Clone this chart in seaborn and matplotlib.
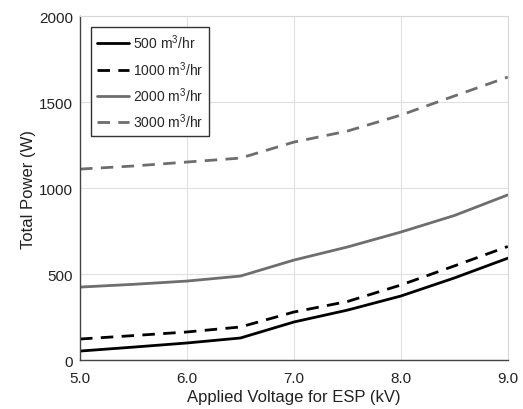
import pandas as pd
import numpy as np
import seaborn as sns
import matplotlib.pyplot as plt

# voltaje aplicado (kV) y potencia total (W) para cada caudal
voltaje = [5.0, 5.5, 6.0, 6.5, 7.0, 7.5, 8.0, 8.5, 9.0]
p500 = [52, 75, 99, 128, 221, 290, 372, 477, 592]
p1000 = [122, 142, 163, 192, 279, 340, 436, 547, 660]
p2000 = [424, 440, 459, 488, 581, 657, 744, 840, 960]
p3000 = [1110, 1128, 1151, 1174, 1267, 1331, 1424, 1535, 1645]
caudales = ['500 m$^3$/hr', '1000 m$^3$/hr', '2000 m$^3$/hr', '3000 m$^3$/hr']

df = pd.DataFrame({
    'voltaje': voltaje * 4,
    'potencia': p500 + p1000 + p2000 + p3000,
    'caudal': np.repeat(caudales, len(voltaje)),
})

sns.set_style('whitegrid')
plt.rcParams['font.family'] = ['Liberation Sans', 'DejaVu Sans']
plt.rcParams['mathtext.fontset'] = 'custom'
plt.rcParams['mathtext.rm'] = 'Liberation Sans'

gris = '#6e6e6e'
colores = {caudales[0]: 'black', caudales[1]: 'black', caudales[2]: gris, caudales[3]: gris}
rayas = {caudales[0]: '', caudales[1]: (4.5, 3), caudales[2]: '', caudales[3]: (4.5, 3)}

fig = plt.figure(figsize=(5.23, 4.10), dpi=100)
ax = fig.add_axes([0.153, 0.1195, 0.818, 0.839])
sns.lineplot(data=df, x='voltaje', y='potencia', hue='caudal', style='caudal',
             palette=colores, dashes=rayas, linewidth=2, ax=ax)

ax.set_xlim(5, 9)
ax.set_ylim(0, 2000)
ax.set_xticks([5, 6, 7, 8, 9])
ax.set_xticklabels(['5.0', '6.0', '7.0', '8.0', '9.0'])
ax.set_yticks([0, 500, 1000, 1500, 2000])
ax.set_xlabel('Applied Voltage for ESP (kV)', fontsize=12, color='#222222', labelpad=3)
ax.set_ylabel('Total Power (W)', fontsize=12, color='#222222', labelpad=2)
ax.tick_params(axis='both', labelsize=11, direction='in', length=4, colors='#222222')
ax.tick_params(axis='x', pad=8)
ax.tick_params(axis='y', pad=5)
ax.grid(True, color='#e0e0e0', linewidth=0.8)
for lado in ['left', 'bottom']:
    ax.spines[lado].set_color('#444444')
    ax.spines[lado].set_linewidth(1)
for lado in ['top', 'right']:
    ax.spines[lado].set_color('#d8d8d8')
    ax.spines[lado].set_linewidth(0.8)

leg = ax.legend(loc='upper left', fontsize=10, frameon=True, fancybox=False,
                edgecolor='#333333', framealpha=1, handlelength=2.3,
                handletextpad=0.3, borderaxespad=0.8, labelspacing=0.55,
                borderpad=0.4)
leg.get_frame().set_linewidth(1)

fig.savefig('out.png', dpi=100)
